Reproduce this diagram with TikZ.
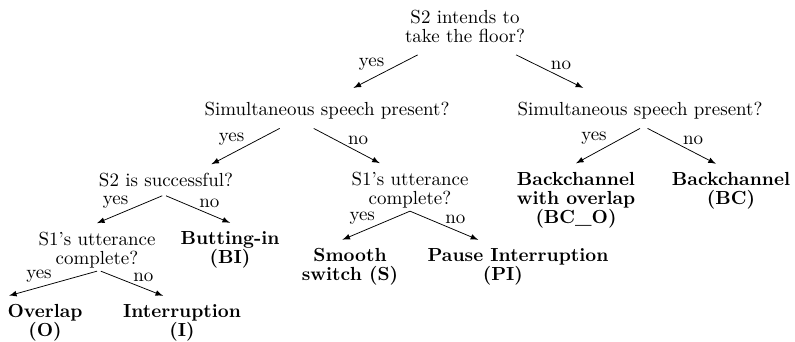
\documentclass[tikz,border=0pt]{standalone}

\tikzset{
    question/.style={align=center, inner xsep=1pt, inner ysep=4.5pt, font=\linespread{0.83}\selectfont},
    answer/.style={question, font=\bfseries\linespread{0.83}\selectfont},
    choice/.style={inner sep=0.5pt},
}

\begin{document}
\begin{tikzpicture}[x=0.528pt, y=-0.528pt, >=latex]
                \useasboundingbox (0,0) rectangle (795,342);

                \node[question] (1) at (465,26) {S2 intends to\\take the floor?};
                \node[question] (2) at (327,111) {Simultaneous speech present?};
                \node[question] (3) at (640,111) {Simultaneous speech present?};
                \node[question] (4) at (166,180) {S2 is successful?};
                \node[question] (5) at (410,190) {S1's utterance\\complete?};
                \node[answer] (6) at (576,200) {Backchannel\\with overlap\\(BC\_O)};
                \node[answer] (7) at (731,191) {Backchannel\\(BC)};
                \node[question] (8) at (97,250) {S1's utterance\\complete?};
                \node[answer] (9) at (230,250) {Butting-in\\(BI)};
                \node[answer] (10) at (350,267) {Smooth\\switch (S)};
                \node[answer] (11) at (518,267) {Pause Interruption\\(PI)\hspace*{16pt}};
                \node[answer] (12) at (45,323) {Overlap\\(O)};
                \node[answer] (13) at (182,323) {Interruption\\(I)};

                \draw[->] ([xshift=-25pt,yshift=-2pt]1.south) -- node[choice, above left] {yes} ([xshift=14pt,yshift=3pt]2.north);
                \draw[->] ([xshift=27pt,yshift=-2pt]1.south) -- node[choice, above right] {no} ([xshift=-30pt,yshift=3pt]3.north);

                \draw[->] ([xshift=-25pt]2.south) -- node[choice, above left] {yes} ([xshift=24pt]4.north);
                \draw[->] ([xshift=-7pt]2.south) -- node[choice, above right] {no} ([xshift=-16pt]5.north);

                \draw[->] (3.south) -- node[choice, above left] {yes} (6.north);
                \draw[->] ([xshift=4pt]3.south) -- node[choice, above right] {no} ([xshift=-8pt]7.north);

                \draw[->] ([xshift=-2pt]4.south) -- node[choice, above left] {yes} (8.north);
                \draw[->] (4.south) -- node[choice, above right] {no} (9.north);

                \draw[->] ([yshift=3pt]5.south) -- node[choice, above left] {yes} ([xshift=-4pt]10.north);
                \draw[->] ([yshift=3pt]5.south) -- node[choice, above right] {no} ([xshift=-21pt]11.north);

                \draw[->] ([yshift=3pt]8.south) -- node[choice, above left] {yes} ([xshift=-19pt]12.north);
                \draw[->] ([xshift=2pt,yshift=3pt]8.south) -- node[choice, above right] {no} ([xshift=-10pt]13.north);
\end{tikzpicture}
\end{document}
